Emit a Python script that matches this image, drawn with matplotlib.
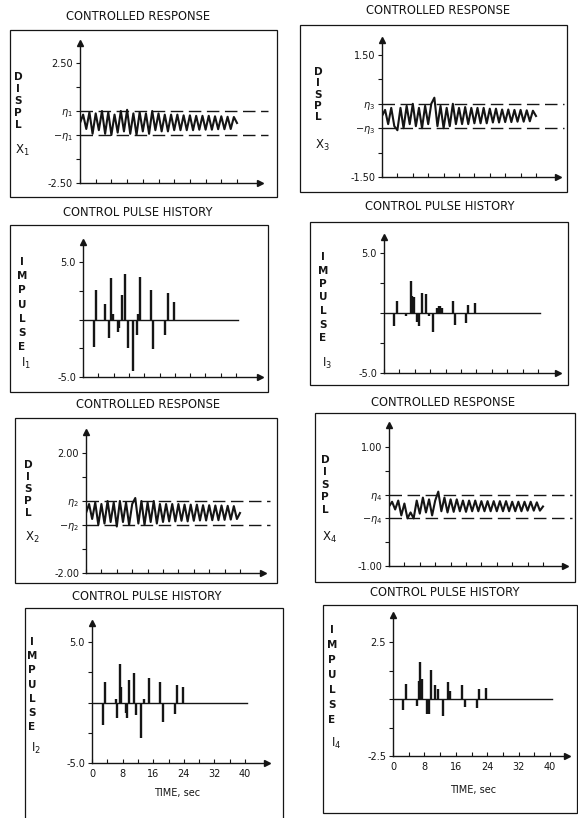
import numpy as np
import matplotlib.pyplot as plt
from matplotlib.patches import Rectangle

# controlled responses at 0.8 s steps, 0..40 s
x1_resp = [0.0, 0.35, -0.25, 0.45, -0.45, 0.4, -0.3, 0.5, -0.45, 0.45, -0.5, 0.35, -0.4,
           0.5, -0.35, 0.55, -0.45, 0.4, -0.5, 0.45, -0.35, 0.4, -0.45, 0.5, -0.3, 0.4,
           -0.35, 0.35, -0.35, 0.35, -0.3, 0.35, -0.3, 0.32, -0.3, 0.32, -0.3, 0.3, -0.28,
           0.3, -0.28, 0.3, -0.28, 0.28, -0.26, 0.28, -0.26, 0.26, -0.25, 0.25, 0.0]
x3_resp = [0.0, 0.15, -0.2, 0.2, -0.25, -0.35, 0.2, -0.3, 0.25, -0.2, 0.3, -0.25, 0.2,
           -0.3, 0.25, -0.2, 0.3, 0.45, -0.25, 0.25, -0.3, 0.2, -0.25, 0.3, -0.2, 0.2,
           -0.2, 0.22, -0.2, 0.2, -0.18, 0.2, -0.18, 0.2, -0.18, 0.18, -0.16, 0.18, -0.16,
           0.16, -0.15, 0.16, -0.15, 0.15, -0.14, 0.15, -0.14, 0.14, -0.13, 0.13, 0.0]
x2_resp = [0.0, 0.3, -0.2, 0.35, -0.4, 0.3, -0.35, 0.4, -0.3, 0.35, -0.45, 0.4, -0.3,
           0.35, -0.4, 0.3, 0.5, -0.35, 0.4, -0.4, 0.35, -0.3, 0.4, -0.35, 0.3, -0.3,
           0.3, -0.28, 0.3, -0.28, 0.3, -0.26, 0.28, -0.28, 0.28, -0.26, 0.28, -0.25, 0.26,
           -0.25, 0.26, -0.24, 0.25, -0.24, 0.25, -0.23, 0.24, -0.22, 0.23, -0.2, 0.0]
x4_resp = [0.0, 0.08, -0.05, 0.1, -0.15, 0.05, -0.2, -0.1, -0.2, 0.1, -0.12, 0.15, -0.1,
           0.12, -0.15, 0.1, 0.25, -0.08, 0.15, -0.1, 0.12, -0.09, 0.12, -0.08, 0.1, -0.09,
           0.1, -0.08, 0.1, -0.08, 0.09, -0.08, 0.09, -0.08, 0.09, -0.08, 0.09, -0.08, 0.09,
           -0.08, 0.08, -0.08, 0.08, -0.08, 0.08, -0.07, 0.08, -0.07, 0.07, -0.07, 0.0]

eta1, eta3, eta2, eta4 = 0.5, 0.3, 0.4, 0.2

# control pulse histories (time sec, impulse)
i1_t = [3.0, 3.5, 5.8, 6.8, 7.2, 7.8, 9.1, 9.5, 10.1, 11.1, 11.7, 13.0, 14.0, 14.5, 14.8,
        17.7, 18.4, 21.4, 22.1, 23.8]
i1_v = [-2.43, 2.6, 1.39, -1.57, 3.65, 0.52, -1.07, -0.78, 2.12, 3.94, -2.52, -4.46, -1.36,
        0.52, 3.71, 2.6, -2.6, -1.36, 2.32, 1.54]
i3_t = [2.6, 3.4, 5.8, 6.9, 7.3, 7.8, 8.6, 9.2, 9.8, 10.9, 11.6, 12.7, 13.8, 14.2, 14.6,
        15.0, 17.8, 18.4, 21.3, 21.9, 23.6]
i3_v = [-1.1, 1.0, -0.28, 2.7, 1.45, 1.35, -0.75, -1.1, 1.7, 1.55, -0.28, -1.58, 0.4, 0.55,
        0.55, 0.4, 1.0, -1.03, -0.82, 0.64, 0.82]
i2_t = [2.9, 3.3, 6.3, 6.6, 7.2, 7.7, 8.8, 9.2, 9.8, 11.0, 11.6, 12.7, 13.7, 14.8, 17.9,
        18.5, 21.6, 22.2, 23.9]
i2_v = [-1.88, 1.71, 0.3, -1.27, 3.18, 1.3, -0.9, -1.27, 1.85, 2.47, -1.03, -2.9, 0.25,
        1.99, 1.71, -1.65, -0.99, 1.43, 1.3]
i4_t = [2.6, 3.2, 6.0, 6.6, 6.9, 7.3, 8.6, 9.1, 9.7, 10.8, 11.4, 12.7, 14.0, 14.4, 17.6,
        18.3, 21.3, 21.9, 23.6]
i4_v = [-0.5, 0.65, -0.29, 0.79, 1.62, 0.86, -0.65, -0.65, 1.29, 0.6, 0.43, -0.76, 0.75,
        0.36, 0.62, -0.36, -0.39, 0.43, 0.5]

time_ticks = [0, 4, 8, 12, 16, 20, 24, 28, 32, 36, 40]
time_labels = ['0', '', '8', '', '16', '', '24', '', '32', '', '40']

W, H = 578, 818
INK = '#151515'
fig = plt.figure(figsize=(W / 100, H / 100), dpi=100)
fig.patch.set_facecolor('white')


def box(l, t, r, b):
    fig.add_artist(Rectangle((l / W, 1 - b / H), (r - l) / W, (b - t) / H,
                             transform=fig.transFigure, fill=False, lw=0.9, ec=INK))


def txt(x, y, s, **kw):
    fig.text(x / W, 1 - y / H, s, ha='center', va='center', color=INK, **kw)


def frame(l, t, r, b, x40, ytop_px, ymax, yticks, ylabels, bottom=False):
    ax = fig.add_axes([l / W, 1 - b / H, (r - l) / W, (b - t) / H])
    ax.patch.set_alpha(0)
    ax.set_xlim(0, 40 * (r - l) / (x40 - l))
    ax.set_ylim(-ymax, -ymax + 2 * ymax * (b - t) / (b - ytop_px))
    for s in ['top', 'right']:
        ax.spines[s].set_visible(False)
    for s in ['left', 'bottom']:
        ax.spines[s].set_linewidth(1.0)
        ax.spines[s].set_color(INK)
    ax.plot(1, 0, '>', color=INK, ms=5, transform=ax.transAxes, clip_on=False)
    ax.plot(0, 1, '^', color=INK, ms=5, transform=ax.transAxes, clip_on=False)
    ax.set_yticks(yticks, ylabels)
    ax.set_xticks(time_ticks, time_labels if bottom else [''] * len(time_ticks))
    ax.tick_params(axis='y', direction='out', length=3, width=0.8, pad=2,
                   labelsize=7, colors=INK)
    ax.tick_params(axis='x', direction='in', length=3, width=0.8, pad=4,
                   labelsize=7, colors=INK)
    ax.px = (l, x40)
    return ax


def resp_panel(ax, vals, eta, dash_px):
    l, x40 = ax.px
    t = np.linspace(0, 40, len(vals))
    xe = 40 * (dash_px - l) / (x40 - l)
    for e in (eta, -eta):
        ax.plot([0, xe], [e, e], color=INK, lw=1.0, dashes=(9, 4), clip_on=False)
    ax.plot(t, vals, color=INK, lw=1.5, zorder=3)


def pulse_panel(ax, tt, vv):
    ax.plot([0, 40.5], [0, 0], color=INK, lw=1.0)
    ax.vlines(tt, 0, vv, color=INK, lw=1.7)


def stack(x, y0, dy, word, sub, sub_y, fs=7.5):
    for k, ch in enumerate(word):
        txt(x, y0 + k * dy, ch, fontsize=fs, fontweight='bold')
    txt(x + 4, sub_y, sub, fontsize=fs + 1)


def resp_ticks(Y, eta, n, lab):
    return ([-Y, -0.6 * Y, -eta, eta, 0.6 * Y, Y],
            ['-' + lab, '', r'$-\eta_%s$' % n, r'$\eta_%s$' % n, '', lab])


def pulse_ticks(Y, lab):
    return [-Y, -Y / 2, 0, Y / 2, Y], ['-' + lab, '', '', '', lab]


tfs = 8.3

# --- x1
box(10, 30, 277, 197)
txt(138, 16, 'CONTROLLED RESPONSE', fontsize=tfs)
ax = frame(80, 43, 260, 183, 237, 63, 2.5, *resp_ticks(2.5, eta1, '1', '2.50'))
resp_panel(ax, x1_resp, eta1, 268)
stack(18, 77, 12, 'DISPL', r'X$_1$', 150)

# --- x3
box(300, 25, 567, 192)
txt(438, 11, 'CONTROLLED RESPONSE', fontsize=tfs)
ax = frame(382, 40, 558, 177, 536, 55, 1.5, *resp_ticks(1.5, eta3, '3', '1.50'))
resp_panel(ax, x3_resp, eta3, 564)
stack(318, 72, 11.3, 'DISPL', r'X$_3$', 145)

# --- I1
box(10, 225, 268, 392)
txt(138, 212, 'CONTROL PULSE HISTORY', fontsize=tfs)
ax = frame(83, 242, 260, 377, 236, 262, 5.0, *pulse_ticks(5.0, '5.0'))
pulse_panel(ax, i1_t, i1_v)
stack(22, 262, 14.2, 'IMPULSE', r'I$_1$', 363)

# --- I3
box(310, 222, 568, 385)
txt(440, 207, 'CONTROL PULSE HISTORY', fontsize=tfs)
ax = frame(384, 237, 558, 373, 538, 253, 5.0, *pulse_ticks(5.0, '5.0'))
pulse_panel(ax, i3_t, i3_v)
stack(323, 257, 13.5, 'IMPULSE', r'I$_3$', 363)

# --- x2
box(15, 418, 277, 583)
txt(148, 405, 'CONTROLLED RESPONSE', fontsize=tfs)
ax = frame(86, 432, 263, 573, 240, 453, 2.0, *resp_ticks(2.0, eta2, '2', '2.00'))
resp_panel(ax, x2_resp, eta2, 270)
stack(28, 465, 12, 'DISPL', r'X$_2$', 537)

# --- x4
box(315, 413, 575, 582)
txt(443, 402, 'CONTROLLED RESPONSE', fontsize=tfs)
ax = frame(389, 425, 565, 566, 543, 447, 1.0, *resp_ticks(1.0, eta4, '4', '1.00'))
resp_panel(ax, x4_resp, eta4, 572)
stack(325, 460, 12.5, 'DISPL', r'X$_4$', 537)

# --- I2
box(25, 608, 283, 840)
txt(147, 597, 'CONTROL PULSE HISTORY', fontsize=tfs)
ax = frame(92, 623, 267, 763, 245, 642, 5.0, *pulse_ticks(5.0, '5.0'), bottom=True)
pulse_panel(ax, i2_t, i2_v)
stack(32, 642, 14.2, 'IMPULSE', r'I$_2$', 748)
txt(177, 793, 'TIME, sec', fontsize=7)

# --- I4
box(323, 605, 577, 813)
txt(445, 592, 'CONTROL PULSE HISTORY', fontsize=tfs)
ax = frame(393, 615, 567, 756, 550, 642, 2.5, *pulse_ticks(2.5, '2.5'), bottom=True)
pulse_panel(ax, i4_t, i4_v)
stack(332, 630, 15, 'IMPULSE', r'I$_4$', 743)
txt(473, 790, 'TIME, sec', fontsize=7)

fig.savefig('out.png', dpi=100)
